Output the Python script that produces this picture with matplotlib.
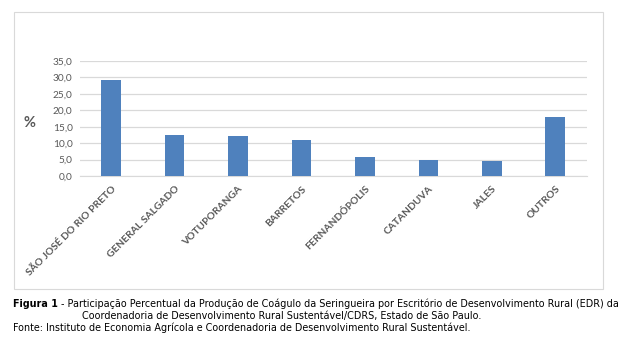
import matplotlib
matplotlib.use('Agg')
import matplotlib.pyplot as plt
from matplotlib.patches import Rectangle

W, H = 624, 348

categories = ['SÃO JOSÉ DO RIO PRETO', 'GENERAL SALGADO', 'VOTUPORANGA', 'BARRETOS',
              'FERNANDÓPOLIS', 'CATANDUVA', 'JALES', 'OUTROS']
values = [29.3, 12.6, 12.3, 11.1, 5.9, 5.0, 4.7, 18.1]
yticks = [0, 5, 10, 15, 20, 25, 30, 35]
ytick_labels = ['0,0', '5,0', '10,0', '15,0', '20,0', '25,0', '30,0', '35,0']

bar_color = '#4F81BD'
grid_color = '#D9D9D9'
text_color = '#595959'

fig = plt.figure(figsize=(W / 100, H / 100), dpi=100)

# chart frame
fig.patches.append(Rectangle((14 / W, 1 - 289 / H), (603 - 14) / W, (289 - 12) / H,
                             transform=fig.transFigure, fill=False,
                             edgecolor=grid_color, linewidth=0.8))

ax = fig.add_axes([79.5 / W, 1 - 176 / H, (587 - 79.5) / W, (176 - 61) / H])
x = range(len(categories))
ax.bar(x, values, width=0.31, color=bar_color, zorder=3)
ax.set_xlim(-0.5, len(categories) - 0.5)
ax.set_ylim(0, 35)
ax.set_yticks(yticks)
ax.set_yticklabels(ytick_labels, fontsize=7.3, color=text_color, family='Lato')
ax.yaxis.grid(True, color=grid_color, linewidth=0.9, zorder=0)
ax.tick_params(axis='both', length=0, pad=5)
for s in ['top', 'right', 'left']:
    ax.spines[s].set_visible(False)
ax.spines['bottom'].set_color(grid_color)
ax.set_xticks(list(x))
ax.set_xticklabels(categories, rotation=45, ha='right', rotation_mode='anchor',
                   fontsize=7.4, fontweight='bold', color=text_color, family='Lato')
ax.tick_params(axis='x', pad=6)

fig.text(30 / W, 1 - 123 / H, '%', fontsize=10.5, fontweight='bold', color=text_color,
         ha='center', va='center', family='Lato')

# caption
cap_size = 6.9
fig.canvas.draw()
renderer = fig.canvas.get_renderer()
t_bold = fig.text(13 / W, 1 - 304 / H, 'Figura 1', fontsize=cap_size, fontweight='bold',
                  va='center', ha='left', family='DejaVu Sans')
bb = t_bold.get_window_extent(renderer=renderer)
fig.text(bb.x1 / W, 1 - 304 / H,
         ' - Participação Percentual da Produção de Coágulo da Seringueira por Escritório de '
         'Desenvolvimento Rural (EDR) da',
         fontsize=cap_size, va='center', ha='left', family='DejaVu Sans')
fig.text(82 / W, 1 - 316 / H,
         'Coordenadoria de Desenvolvimento Rural Sustentável/CDRS, Estado de São Paulo.',
         fontsize=cap_size, va='center', ha='left', family='DejaVu Sans')
fig.text(13 / W, 1 - 328 / H,
         'Fonte: Instituto de Economia Agrícola e Coordenadoria de Desenvolvimento Rural Sustentável.',
         fontsize=cap_size, va='center', ha='left', family='DejaVu Sans')

fig.savefig('out.png', dpi=100)
